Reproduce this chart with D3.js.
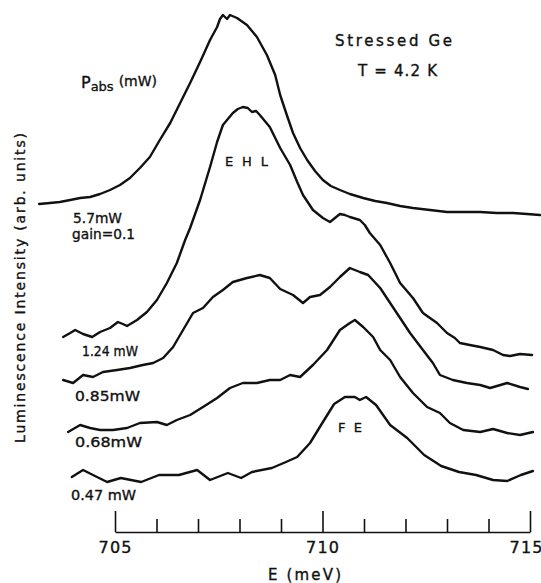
<!DOCTYPE html>
<html>
<head>
<meta charset="utf-8">
<script src="https://cdn.jsdelivr.net/npm/d3@7"></script>
<style>
  body { margin: 0; background: #fff; }
  svg text { font-family: "DejaVu Sans", sans-serif; fill: #111; stroke: #111; stroke-width: 0.35px; }
</style>
</head>
<body>
<svg width="541" height="583"></svg>
<script>
// spectra: [E (meV), intensity (arb. units, offset included)]
const trace570 = [[703.17,32.8],[703.43,32.9],[703.67,33.0],[703.92,33.2],[704.16,33.4],[704.40,33.5],[704.64,33.8],
  [704.88,34.2],[705.12,34.7],[705.36,35.4],[705.60,36.4],[705.84,37.5],[706.08,39.2],[706.33,40.9],[706.57,42.9],
  [706.81,44.9],[707.05,47.0],[707.29,49.2],[707.46,50.5],[707.53,51.3],[707.60,51.7],[707.70,51.3],[707.77,51.7],
  [707.94,51.4],[708.18,50.7],[708.42,49.5],[708.66,47.7],[708.86,45.7],[708.98,43.7],[709.14,41.7],[709.29,39.9],
  [709.46,38.4],[709.63,37.2],[709.82,36.1],[710.01,35.2],[710.20,34.6],[710.42,34.2],[710.66,33.8],[710.98,33.4],
  [711.27,33.1],[711.55,32.9],[711.87,32.6],[712.18,32.4],[712.59,32.2],[713.00,32.0],[713.43,32.0],[713.80,32.0],
  [714.20,31.9],[714.59,31.9],[714.93,31.8],[715.24,31.7]];

const trace124 = [[703.75,19.5],[703.92,19.9],[704.04,20.2],[704.23,19.8],[704.45,19.5],[704.64,20.0],[704.88,20.4],
  [705.07,21.0],[705.19,20.8],[705.29,20.6],[705.53,21.2],[705.77,22.0],[706.01,23.2],[706.25,24.9],[706.49,26.9],
  [706.69,29.2],[706.81,30.4],[707.05,33.2],[707.29,36.5],[707.46,39.0],[707.60,40.7],[707.84,41.9],[707.96,42.3],
  [708.08,42.5],[708.20,42.4],[708.30,42.0],[708.40,42.1],[708.49,41.7],[708.73,40.5],[708.98,38.4],[709.22,36.7],
  [709.39,35.0],[709.53,33.7],[709.77,32.2],[710.01,31.4],[710.18,31.0],[710.30,31.4],[710.42,31.8],[710.54,31.7],
  [710.66,31.5],[710.90,31.2],[711.02,30.7],[711.14,29.9],[711.39,28.7],[711.63,26.9],[711.87,24.9],[712.18,23.4],
  [712.42,21.9],[712.76,20.9],[713.00,19.9],[713.19,19.4],[713.31,18.9],[713.55,18.7],[713.80,18.5],[714.11,18.2],
  [714.35,17.7],[714.52,17.6],[714.76,17.8],[715.05,17.7]];

const trace085 = [[703.75,15.2],[703.99,14.9],[704.23,15.7],[704.47,15.5],[704.71,16.0],[705.05,16.2],[705.36,16.4],
  [705.67,16.7],[705.92,16.9],[706.16,17.4],[706.40,18.5],[706.64,20.2],[706.88,21.9],[707.12,22.4],[707.36,23.5],
  [707.60,24.2],[707.84,25.0],[708.18,25.4],[708.49,25.7],[708.73,25.4],[708.98,24.3],[709.29,23.7],[709.53,22.9],
  [709.70,23.5],[709.94,23.7],[710.18,24.5],[710.42,25.5],[710.66,26.4],[710.78,26.2],[710.90,26.0],[711.10,25.7],
  [711.39,24.4],[711.63,22.9],[711.87,21.4],[712.11,19.9],[712.42,18.2],[712.66,16.9],[712.83,15.7],[713.14,15.2],
  [713.48,14.9],[713.80,14.7],[714.04,14.4],[714.45,14.9],[714.76,14.5],[714.95,14.3]];

const trace068 = [[703.87,10.0],[704.16,10.7],[704.40,10.4],[704.64,10.2],[704.95,10.2],[705.29,10.4],[705.60,10.9],
  [706.01,11.0],[706.25,10.7],[706.49,11.2],[706.81,11.7],[707.12,12.5],[707.46,13.4],[707.77,14.4],[708.08,14.9],
  [708.42,14.9],[708.73,15.2],[708.98,15.2],[709.22,15.7],[709.46,15.5],[709.77,16.7],[710.11,18.2],[710.42,20.2],
  [710.66,20.9],[710.78,21.2],[710.98,20.5],[711.22,19.5],[711.39,18.2],[711.63,17.2],[711.87,15.5],[712.18,13.9],
  [712.52,12.5],[712.83,11.9],[713.07,10.9],[713.39,10.2],[713.80,10.0],[714.11,10.3],[714.45,9.9],[714.76,9.7],
  [715.07,10.0]];

const trace047 = [[703.96,5.5],[704.23,6.2],[704.47,5.7],[704.81,5.0],[705.14,5.4],[705.63,5.0],[706.06,5.7],
  [706.54,5.7],[706.98,6.2],[707.29,5.2],[707.72,5.9],[708.04,5.4],[708.30,6.0],[708.78,6.4],[709.12,7.0],
  [709.39,7.5],[709.70,8.9],[710.01,11.0],[710.28,12.8],[710.54,13.5],[710.78,13.5],[710.90,13.2],[711.05,13.5],
  [711.29,12.7],[711.63,10.7],[712.04,9.4],[712.45,7.7],[712.86,6.6],[713.29,6.0],[713.70,5.7],[714.11,5.2],
  [714.45,5.1],[714.78,5.7],[715.07,6.1]];

const tickValues = d3.range(705, 716);
const tickLabels = [705, 710, 715];
const powerNames = ['5.7mW', 'gain=0.1', '1.24 mW', '0.85mW', '0.68mW', '0.47 mW'];

const svg = d3.select('svg');

const x = d3.scaleLinear().domain([705, 715]).range([115, 530]);
const y = d3.scaleLinear().domain([0, 52]).range([532, 12]);

const line = d3.line()
  .x(d => x(d[0]))
  .y(d => y(d[1]));

const traces = [trace570, trace124, trace085, trace068, trace047];

svg.selectAll('path.trace')
  .data(traces)
  .enter()
  .append('path')
  .attr('class', 'trace')
  .attr('d', line)
  .attr('fill', 'none')
  .attr('stroke', '#111')
  .attr('stroke-width', 2.4)
  .attr('stroke-linejoin', 'round')
  .attr('stroke-linecap', 'round');

// energy axis, ticks pointing up
const axis = svg.append('g')
  .attr('transform', `translate(0, ${y(0)})`)
  .call(d3.axisTop(x)
    .tickValues(tickValues)
    .tickSize(13)
    .tickSizeOuter(0)
    .tickFormat(''));

axis.select('.domain').attr('stroke', '#111').attr('stroke-width', 1.6);
axis.selectAll('.tick line')
  .attr('stroke', '#111')
  .attr('stroke-width', 1.6)
  .attr('y2', d => d % 5 === 0 ? -21 : -13);

svg.selectAll('text.ticklabel')
  .data(tickLabels)
  .enter()
  .append('text')
  .attr('class', 'ticklabel')
  .attr('x', d => x(d))
  .attr('dx', d => d === 715 ? -4 : 0)
  .attr('y', 553)
  .attr('text-anchor', 'middle')
  .attr('font-size', 16)
  .attr('textLength', 33)
  .attr('lengthAdjust', 'spacing')
  .text(d => d);

svg.append('text')
  .attr('x', 268)
  .attr('y', 580)
  .attr('font-size', 15)
  .attr('textLength', 73)
  .attr('lengthAdjust', 'spacing')
  .text('E (meV)');

svg.append('text')
  .attr('transform', 'translate(25, 288) rotate(-90)')
  .attr('text-anchor', 'middle')
  .attr('font-size', 14)
  .attr('textLength', 310)
  .attr('lengthAdjust', 'spacing')
  .text('Luminescence Intensity (arb. units)');

// annotations
svg.append('text')
  .attr('x', 335).attr('y', 46)
  .attr('font-size', 15)
  .attr('textLength', 117)
  .attr('lengthAdjust', 'spacing')
  .text('Stressed Ge');

svg.append('text')
  .attr('x', 358).attr('y', 76)
  .attr('font-size', 15)
  .attr('textLength', 79)
  .attr('lengthAdjust', 'spacing')
  .text('T = 4.2 K');

const pabs = svg.append('text')
  .attr('x', 81).attr('y', 88)
  .attr('font-size', 16);
pabs.append('tspan').text('P');
pabs.append('tspan').attr('font-size', 13).attr('dy', 3).text('abs');
pabs.append('tspan').attr('font-size', 14).attr('dy', -5).attr('dx', 5).text('(mW)');

svg.append('text')
  .attr('x', 225).attr('y', 166)
  .attr('font-size', 13)
  .attr('textLength', 43)
  .attr('lengthAdjust', 'spacing')
  .text('EHL');

svg.append('text')
  .attr('x', 338).attr('y', 432)
  .attr('font-size', 13)
  .attr('textLength', 24)
  .attr('lengthAdjust', 'spacing')
  .text('FE');

const powerX = [73, 72, 82, 75, 75, 71];
const powerY = [223, 239, 356, 401, 447, 500];
const powerW = [49, 63, 56, 65, 67, 65];

svg.selectAll('text.power')
  .data(powerNames)
  .enter()
  .append('text')
  .attr('class', 'power')
  .attr('x', (d, i) => powerX[i])
  .attr('y', (d, i) => powerY[i])
  .attr('font-size', 14)
  .attr('textLength', (d, i) => powerW[i])
  .attr('lengthAdjust', 'spacingAndGlyphs')
  .text(d => d);
</script>
</body>
</html>
